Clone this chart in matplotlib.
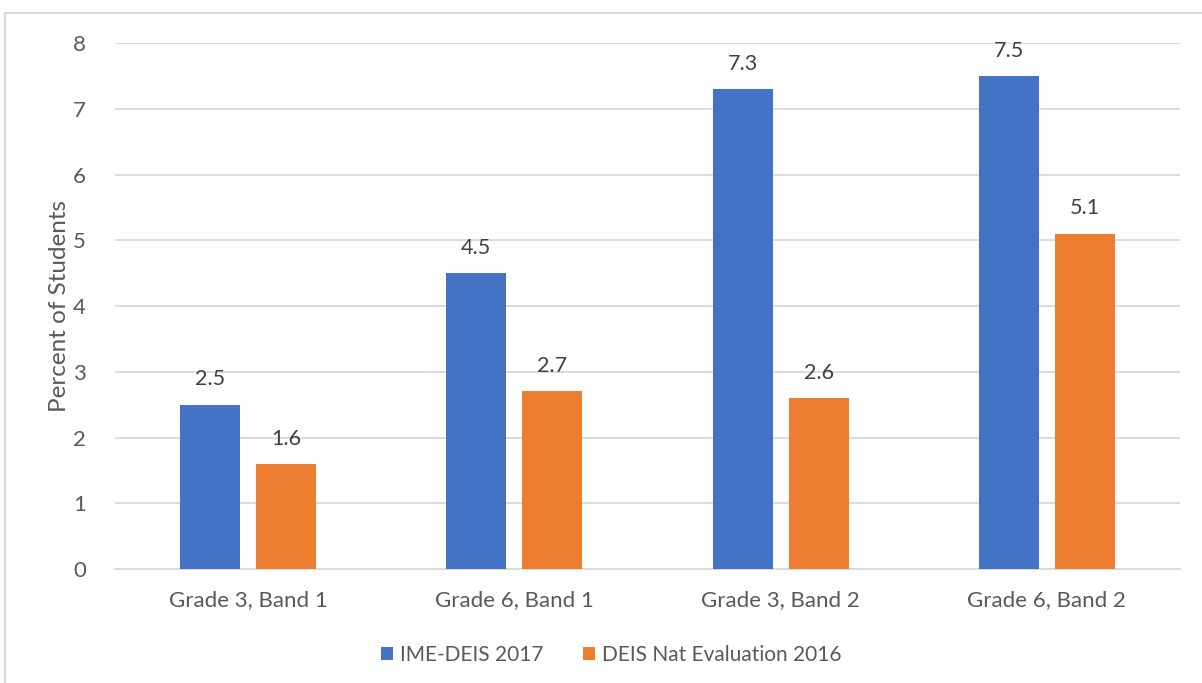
import matplotlib
matplotlib.use("Agg")
import matplotlib.pyplot as plt
from matplotlib.patches import Rectangle
import numpy as np

categories = ["Grade 3, Band 1", "Grade 6, Band 1", "Grade 3, Band 2", "Grade 6, Band 2"]
ime_deis_2017 = [2.5, 4.5, 7.3, 7.5]
deis_nat_2016 = [1.6, 2.7, 2.6, 5.1]
series_names = ["IME-DEIS 2017", "DEIS Nat Evaluation 2016"]
y_ticks = [0, 1, 2, 3, 4, 5, 6, 7, 8]

BLUE = "#4472C4"
ORANGE = "#ED7D31"
TEXT = "#595959"
LABEL = "#404040"
GRID = "#D9D9D9"

plt.rcParams["font.family"] = ["Lato", "DejaVu Sans"]

fig = plt.figure(figsize=(12.02, 6.83), dpi=100)
ax = fig.add_axes([115 / 1202, 1 - 569 / 683, 1065 / 1202, 526 / 683])

# Chart-area frame (only the top and left edges fall inside the canvas)
fig.patches.append(Rectangle((5 / 1202, -0.1), 1.2, 1 - 13 / 683 + 0.1,
                             transform=fig.transFigure, fill=False,
                             edgecolor=GRID, linewidth=1.5, zorder=0))

x = np.arange(len(categories))
width = 0.225
offset = 0.143
b1 = ax.bar(x - offset, ime_deis_2017, width, color=BLUE, label=series_names[0], zorder=3)
b2 = ax.bar(x + offset, deis_nat_2016, width, color=ORANGE, label=series_names[1], zorder=3)

for bars, vals in ((b1, ime_deis_2017), (b2, deis_nat_2016)):
    for rect, v in zip(bars, vals):
        ax.annotate(f"{v:g}", (rect.get_x() + rect.get_width() / 2, v),
                    xytext=(0, 11), textcoords="offset points",
                    ha="center", va="bottom", fontsize=15.5, color=LABEL)

ax.set_xlim(-0.5, len(categories) - 0.5)
ax.set_ylim(0, 8)
ax.set_yticks(y_ticks)
ax.set_xticks(x)
ax.set_xticklabels(categories)
ax.tick_params(axis="both", length=0, labelsize=16, colors=TEXT)
ax.tick_params(axis="y", pad=21)
ax.tick_params(axis="x", pad=15)
ax.grid(axis="y", color=GRID, linewidth=1.3, zorder=0)
for s in ("top", "right", "left"):
    ax.spines[s].set_visible(False)
ax.spines["bottom"].set_color(GRID)
ax.spines["bottom"].set_linewidth(1.3)
ax.set_ylabel("Percent of Students", fontsize=17.5, color=TEXT, labelpad=2)

leg = fig.legend(handles=[b1, b2], labels=series_names, loc="center",
                 bbox_to_anchor=(611 / 1202, 1 - 655 / 683), ncol=2, frameon=False,
                 fontsize=15, handlelength=0.6, handleheight=0.6,
                 columnspacing=1.9, handletextpad=0.3)
for t in leg.get_texts():
    t.set_color(TEXT)

fig.savefig("out.png", dpi=100, facecolor="white")
